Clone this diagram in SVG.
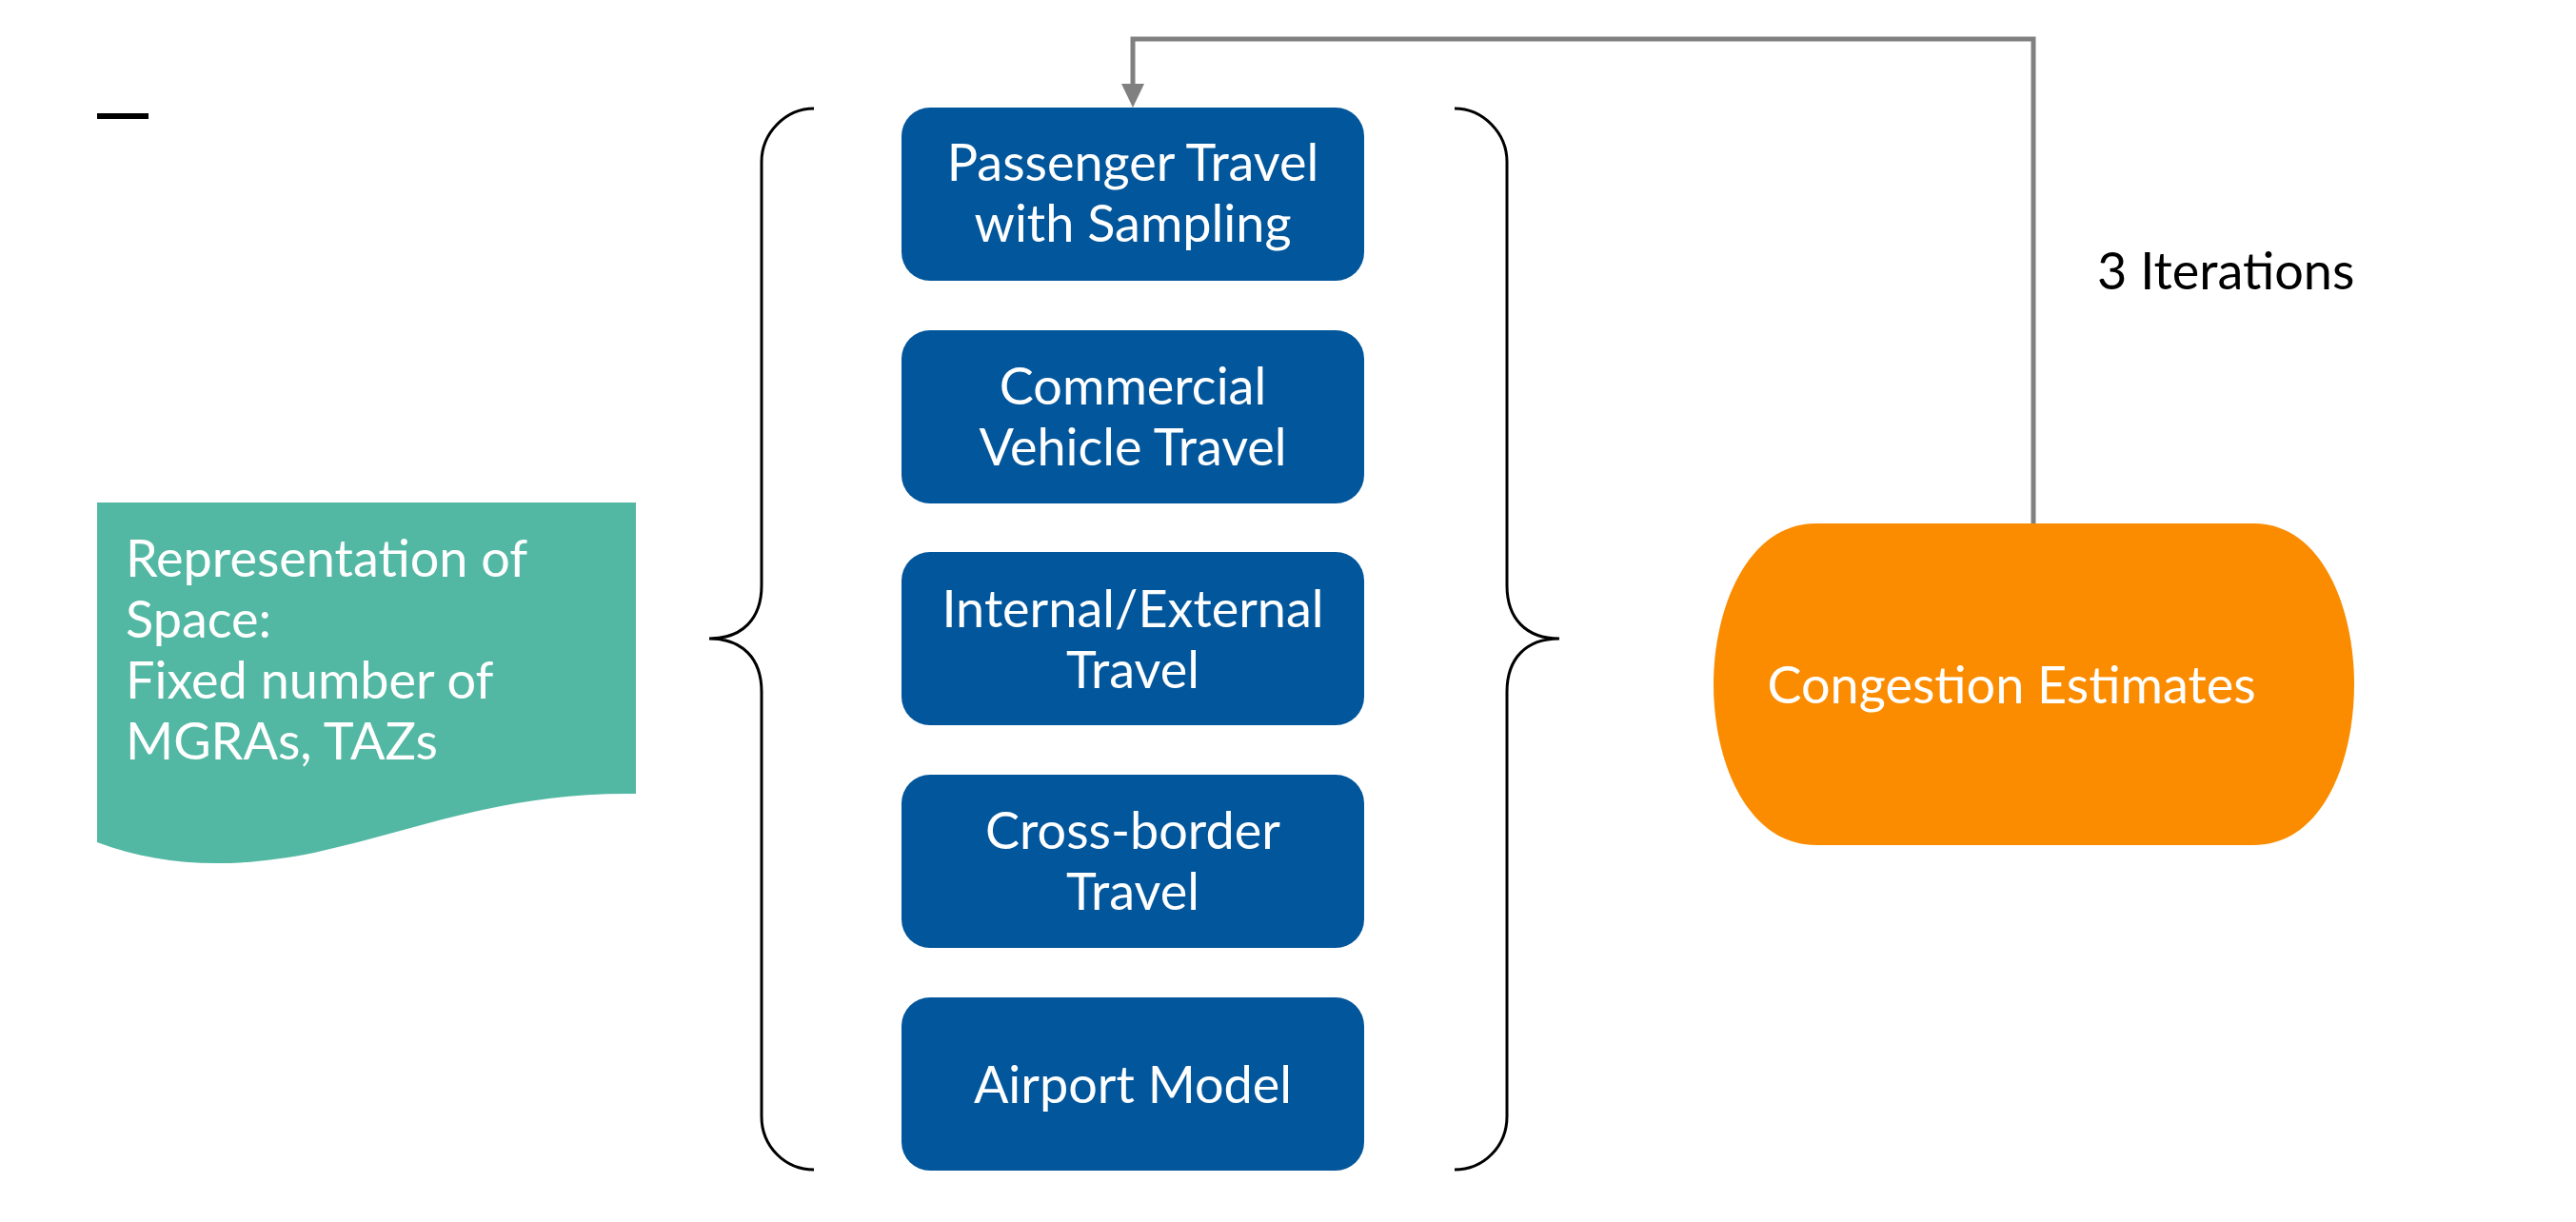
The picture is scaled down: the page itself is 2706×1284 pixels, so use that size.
<svg xmlns="http://www.w3.org/2000/svg" width="2706" height="1284" viewBox="0 0 2706 1284">
<defs>
<style>
.box{fill:#02569b}
.lbl{font-family:Lato,"Liberation Sans",sans-serif;font-size:54px;fill:#ffffff}
.mid{text-anchor:middle}
.brace{fill:none;stroke:#000000;stroke-width:3}
.conn{fill:none;stroke:#808080;stroke-width:5}
</style>
</defs>
<rect width="2706" height="1284" fill="#ffffff"/>
<rect x="102" y="119" width="54" height="6" fill="#000000"/>

<g id="space">
<path d="M102,528 H668 V834 C530,832 440,872 330,896 C240,914 170,910 102,885 Z" fill="#53b8a3"/>
<text class="lbl" x="132" y="606">Representation of</text>
<text class="lbl" x="132" y="670">Space:</text>
<text class="lbl" x="132" y="734">Fixed number of</text>
<text class="lbl" x="132" y="798">MGRAs, TAZs</text>
</g>

<g id="brace-left">
<path class="brace" d="M855,114 C825,114 800,140 800,170 V615 C800,650 780,671 745,671 C780,671 800,692 800,727 V1173 C800,1205 825,1229 855,1229"/>
</g>
<g id="brace-right">
<path class="brace" d="M1528,114 C1558,114 1583,140 1583,170 V615 C1583,650 1603,671 1638,671 C1603,671 1583,692 1583,727 V1173 C1583,1205 1558,1229 1528,1229"/>
</g>

<g id="passenger">
<rect class="box" x="947" y="113" width="486" height="182" rx="30"/>
<text class="lbl mid" x="1190" y="190">Passenger Travel</text>
<text class="lbl mid" x="1190" y="254">with Sampling</text>
</g>
<g id="commercial">
<rect class="box" x="947" y="347" width="486" height="182" rx="30"/>
<text class="lbl mid" x="1190" y="425">Commercial</text>
<text class="lbl mid" x="1190" y="489">Vehicle Travel</text>
</g>
<g id="internal">
<rect class="box" x="947" y="580" width="486" height="182" rx="30"/>
<text class="lbl mid" x="1190" y="659">Internal/External</text>
<text class="lbl mid" x="1190" y="723">Travel</text>
</g>
<g id="crossborder">
<rect class="box" x="947" y="814" width="486" height="182" rx="30"/>
<text class="lbl mid" x="1190" y="892">Cross-border</text>
<text class="lbl mid" x="1190" y="956">Travel</text>
</g>
<g id="airport">
<rect class="box" x="947" y="1048" width="486" height="182" rx="30"/>
<text class="lbl mid" x="1190" y="1159">Airport Model</text>
</g>

<g id="congestion">
<path d="M1908,550 H2367 C2440,550 2473,640 2473,719 C2473,800 2440,888 2367,888 H1908 C1835,888 1800,800 1800,719 C1800,640 1835,550 1908,550 Z" fill="#fb8c00"/>
<text class="lbl mid" x="2113" y="739">Congestion Estimates</text>
</g>

<g id="connectors">
<path class="conn" d="M2136,550 V41 H1190 V90"/>
<path d="M1178,88 L1202,88 L1190,113 Z" fill="#808080"/>
<text x="2203" y="304" font-family="Lato,'Liberation Sans',sans-serif" font-size="54" fill="#000000">3 Iterations</text>
</g>
</svg>
